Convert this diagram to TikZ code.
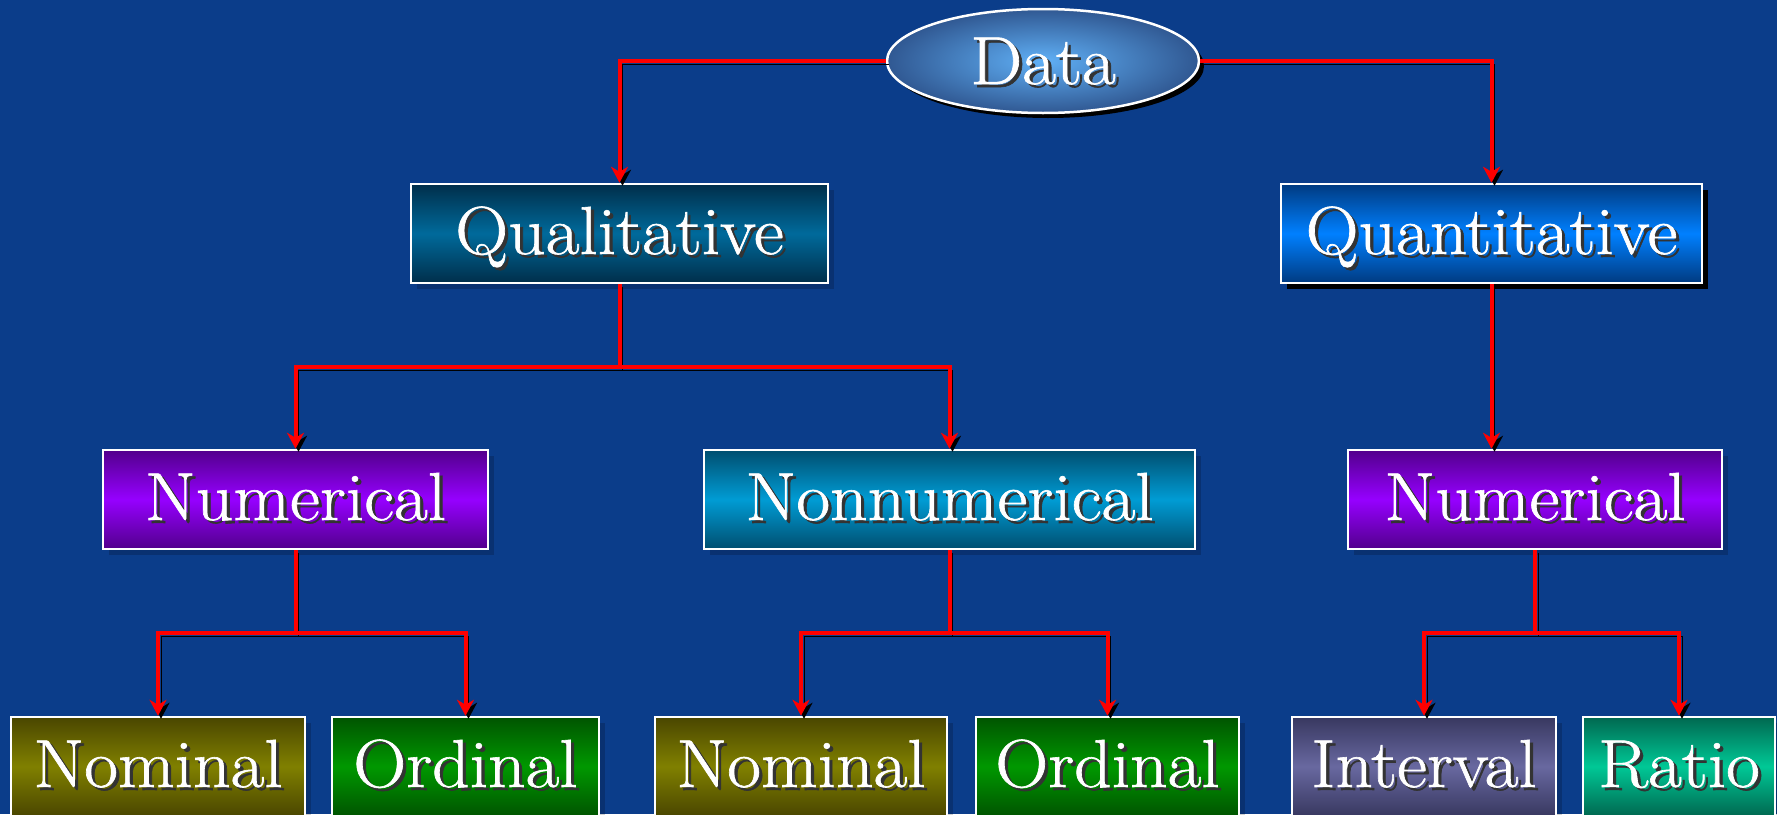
\documentclass[tikz,border=0pt]{standalone}
\usepackage{fontspec}
\usetikzlibrary{arrows.meta,shadows,shapes.geometric}

% slightly heavier serif for the labels
\newfontfamily\labelfam{Latin Modern Roman}[FakeBold=0.9]

% palette
\definecolor{bg}{RGB}{11,61,138}
\definecolor{qualC}{RGB}{0,106,155}   \definecolor{qualD}{RGB}{0,46,74}
\definecolor{quantC}{RGB}{0,128,255}  \definecolor{quantD}{RGB}{0,58,128}
\definecolor{numC}{RGB}{150,0,255}    \definecolor{numD}{RGB}{82,0,140}
\definecolor{nonC}{RGB}{0,156,212}    \definecolor{nonD}{RGB}{0,78,112}
\definecolor{nomC}{RGB}{128,128,0}    \definecolor{nomD}{RGB}{74,70,0}
\definecolor{ordC}{RGB}{0,152,0}      \definecolor{ordD}{RGB}{0,84,0}
\definecolor{intC}{RGB}{104,104,160}  \definecolor{intD}{RGB}{56,56,96}
\definecolor{ratC}{RGB}{0,200,150}    \definecolor{ratD}{RGB}{0,104,80}
\definecolor{dataC}{RGB}{96,176,246}  \definecolor{dataD}{RGB}{48,88,146}

% white label, slightly widened, with a dark offset copy behind it
\newcommand\txtshadow[1]{\scalebox{1.08}[1]{\rlap{\kern3pt\raisebox{-3pt}{\textcolor{black!80}{#1}}}#1}}

\tikzset{
  labelfont/.style={text=white, font=\labelfam\fontsize{68}{74}\selectfont},
  catbox/.style 2 args={draw=white, line width=2.5pt, inner sep=0pt,
    text height=70pt, text depth=29pt, minimum width=#1,
    top color=#2D, bottom color=#2D, middle color=#2C, labelfont},
  faintshadow/.style={drop shadow={shadow xshift=6pt, shadow yshift=-6pt, fill=black, opacity=0.18}},
  darkshadow/.style={drop shadow={shadow xshift=6pt, shadow yshift=-6pt, fill=black, opacity=1}},
  conn/.style={line width=4pt, draw=red,
    -{Stealth[length=16pt, width=17pt, inset=5pt]},
    preaction={draw=black, transform canvas={shift={(3pt,-3pt)}}}},
}

\begin{document}
\begin{tikzpicture}[x=1pt, y=-1pt]
  \useasboundingbox (0,0) rectangle (1777,814);
  \clip (0,0) rectangle (1777,814);
  \fill[bg] (0,0) rectangle (1777,814);

  % root
  \node[ellipse, draw=white, line width=2.5pt, inner sep=0pt,
        minimum width=312pt, minimum height=104pt,
        text height=46pt, text depth=0pt,
        shading=radial, inner color=dataC, outer color=dataD,
        drop shadow={shadow xshift=5pt, shadow yshift=-5pt, fill=black, opacity=1},
        labelfont] (data) at (1043,61) {\txtshadow{Data}};

  % first level
  \node[catbox={417pt}{qual}, faintshadow] (qual) at (619.5,233.5) {\txtshadow{Qualitative}};
  \node[catbox={421pt}{quant}, darkshadow] (quant) at (1491.5,233.5) {\txtshadow{Quantitative}};

  % second level
  \node[catbox={385pt}{num}, faintshadow] (numL) at (295.5,499.5) {\txtshadow{Numerical}};
  \node[catbox={491pt}{non}, faintshadow] (nonnum) at (949.5,499.5) {\txtshadow{Nonnumerical}};
  \node[catbox={374pt}{num}, faintshadow] (numR) at (1535,499.5) {\txtshadow{Numerical}};

  % leaves
  \node[catbox={294pt}{nom}, faintshadow] (nomA) at (158,766.5) {\txtshadow{Nominal}};
  \node[catbox={267pt}{ord}, faintshadow] (ordA) at (465.5,766.5) {\txtshadow{Ordinal}};
  \node[catbox={292pt}{nom}, faintshadow] (nomB) at (801,766.5) {\txtshadow{Nominal}};
  \node[catbox={263pt}{ord}, faintshadow] (ordB) at (1107.5,766.5) {\txtshadow{Ordinal}};
  \node[catbox={264pt}{int}, faintshadow] (intv) at (1424,766.5) {\txtshadow{Interval}};
  \node[catbox={192pt}{rat}, faintshadow] (ratio) at (1679,766.5) {\txtshadow{Ratio}};

  % branch points
  \coordinate (j1) at (qual.south |- 0,367);
  \coordinate (j2) at (numL.south |- 0,633);
  \coordinate (j3) at (nonnum.south |- 0,633);
  \coordinate (j4) at (numR.south |- 0,633);

  % connectors
  \draw[conn] (data.west) -| (qual.north);
  \draw[conn] (data.east) -| (quant.north);

  \draw[conn] (qual.south) -- (j1) -| (numL.north);
  \draw[conn] (j1) -| (nonnum.north);
  \draw[conn] (quant.south) -- (quant.south |- numR.north);

  \draw[conn] (numL.south) -- (j2) -| (nomA.north);
  \draw[conn] (j2) -| (ordA.north);
  \draw[conn] (nonnum.south) -- (j3) -| (nomB.north);
  \draw[conn] (j3) -| (ordB.north);
  \draw[conn] (numR.south) -- (j4) -| (intv.north);
  \draw[conn] (j4) -| (ratio.north);
\end{tikzpicture}
\end{document}
